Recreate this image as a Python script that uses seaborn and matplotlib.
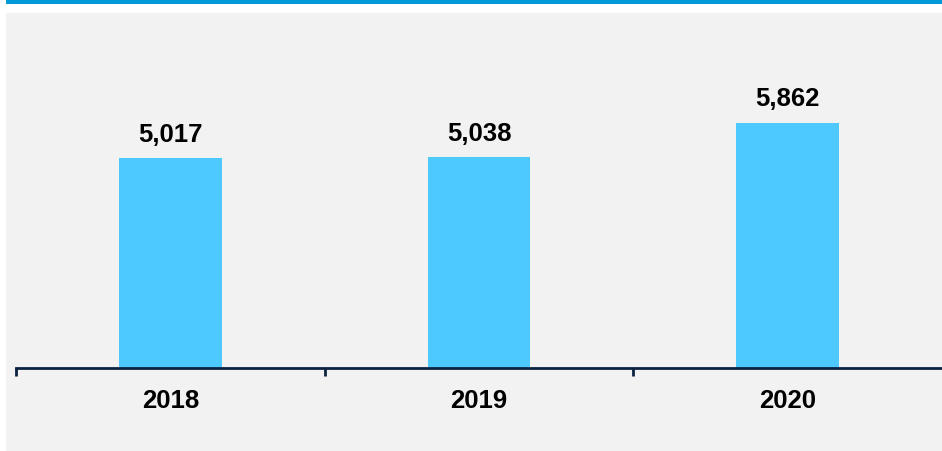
import numpy as np
import pandas as pd
import matplotlib.pyplot as plt
import seaborn as sns
from matplotlib.patches import Rectangle

# Values
years = ['2018', '2019', '2020']
values = [5017, 5038, 5862]

df = pd.DataFrame({'year': years, 'value': values})

sns.set_style('white')
plt.rcParams['font.family'] = ['Liberation Sans', 'DejaVu Sans']

fig = plt.figure(figsize=(9.42, 4.51), dpi=100)
fig.patch.set_facecolor('white')

# Grey panel and blue band at the top
fig.patches.append(Rectangle((6 / 942, 0), 1 - 6 / 942, 1 - 13 / 451,
                             transform=fig.transFigure, facecolor='#f2f2f2',
                             edgecolor='none', zorder=-2))
fig.patches.append(Rectangle((6 / 942, 1 - 4 / 451), 1 - 6 / 942, 4 / 451,
                             transform=fig.transFigure, facecolor='#0099da',
                             edgecolor='none', zorder=-1))

ax = fig.add_axes([16 / 942, (451 - 368) / 451, (942 - 16) / 942, (368 - 13) / 451])
ax.set_facecolor('none')

sns.barplot(data=df, x='year', y='value', color='#4dc9ff', width=0.333,
            saturation=1, linewidth=0, edgecolor='none', ax=ax)

ax.set_xlim(-0.5, 2.5)
ax.set_ylim(0, 8480)

# Value labels above bars
ax.bar_label(ax.containers[0], labels=[f'{v:,}' for v in values],
             padding=8, fontsize=18.5, fontweight='bold', color='black')

# Axis styling
for side in ['top', 'right', 'left']:
    ax.spines[side].set_visible(False)
ax.spines['bottom'].set_color('#0a2240')
ax.spines['bottom'].set_linewidth(2)
ax.set_yticks([])
ax.set_xlabel('')
ax.set_ylabel('')
ax.tick_params(axis='x', which='major', length=0, pad=15, labelsize=18.5,
               labelcolor='black')
for lbl in ax.get_xticklabels():
    lbl.set_fontweight('bold')
ax.set_xticks([-0.5, 0.5, 1.5], minor=True)
ax.tick_params(axis='x', which='minor', bottom=True, length=6, width=2,
               color='#0a2240', direction='out')

fig.savefig('out.png', dpi=100, facecolor=fig.get_facecolor())
